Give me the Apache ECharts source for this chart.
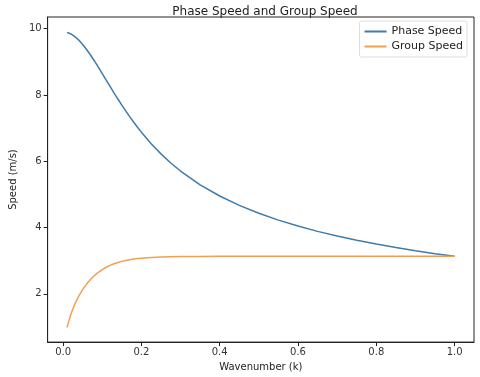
<!DOCTYPE html>
<html>
<head>
<meta charset="utf-8">
<script src="https://cdn.jsdelivr.net/npm/echarts@6/dist/echarts.min.js"></script>
<style>html,body{margin:0;padding:0;background:#fff}#c{width:480px;height:377px}</style>
</head>
<body>
<div id="c"></div>
<script>
const wavenumbers = [0.01,0.02,0.03,0.04,0.05,0.06,0.07,0.08,0.09,0.10,0.11,0.12,0.13,0.14,0.15,0.16,0.17,0.18,0.19,0.20,0.225,0.25,0.275,0.30,0.35,0.40,0.45,0.50,0.55,0.60,0.65,0.70,0.75,0.80,0.85,0.90,0.95,1.00];
const phaseSpeed = [9.888,9.839,9.760,9.653,9.522,9.371,9.203,9.024,8.836,8.644,8.449,8.255,8.064,7.876,7.694,7.517,7.347,7.183,7.027,6.877,6.530,6.222,5.948,5.704,5.289,4.951,4.668,4.429,4.223,4.044,3.885,3.744,3.617,3.502,3.397,3.302,3.213,3.132];
const groupSpeed = [0.989,1.392,1.691,1.931,2.129,2.295,2.435,2.552,2.651,2.733,2.802,2.860,2.908,2.947,2.980,3.007,3.029,3.048,3.063,3.075,3.098,3.111,3.119,3.124,3.129,3.131,3.132,3.132,3.132,3.132,3.132,3.132,3.132,3.132,3.132,3.132,3.132,3.132];
const xTicks = [0.0,0.2,0.4,0.6,0.8,1.0];
const yTicks = [2,4,6,8,10];
const seriesNames = ['Phase Speed','Group Speed'];

const chart = echarts.init(document.getElementById('c'), null, {renderer:'canvas'});
const font = 'DejaVu Sans';
const pair = arr => wavenumbers.map((k,i)=>[k,arr[i]]);
chart.setOption({
  animation:false,
  backgroundColor:'#fff',
  title:{text:'Phase Speed and Group Speed',left:260,top:1,textAlign:'center',
    textStyle:{fontFamily:font,fontSize:12,fontWeight:'normal',color:'#222'}},
  legend:{right:13,top:21,orient:'vertical',itemWidth:22,itemHeight:2,itemGap:4,
    padding:[5,4,5,5],borderColor:'#ddd',borderWidth:1,borderRadius:2,
    icon:'rect',
    textStyle:{fontFamily:font,fontSize:11,color:'#222'},data:seriesNames},
  grid:{left:46,right:6,top:17,bottom:33,show:true,borderColor:'#222',borderWidth:1,containLabel:false},
  xAxis:{type:'value',min:-0.0395,max:1.0495,
    name:'Wavenumber (k)',nameLocation:'middle',nameGap:18,
    nameTextStyle:{fontFamily:font,fontSize:10,color:'#222'},
    axisLine:{show:true,onZero:false,lineStyle:{color:'#222'}},
    axisTick:{show:true,inside:false,length:4,customValues:xTicks,lineStyle:{color:'#222'}},
    axisLabel:{customValues:xTicks,fontFamily:font,fontSize:10,color:'#333',margin:5,
      formatter:v=>v.toFixed(1)},
    splitLine:{show:false}},
  yAxis:{type:'value',min:0.545,max:10.35,
    name:'Speed (m/s)',nameLocation:'middle',nameGap:24,nameRotate:90,
    nameTextStyle:{fontFamily:font,fontSize:10,color:'#222'},
    axisLine:{show:true,onZero:false,lineStyle:{color:'#222'}},
    axisTick:{show:true,inside:false,length:4,customValues:yTicks,lineStyle:{color:'#222'}},
    axisLabel:{customValues:yTicks,fontFamily:font,fontSize:10,color:'#333',margin:6},
    splitLine:{show:false}},
  series:[
    {name:seriesNames[0],type:'line',data:pair(phaseSpeed),showSymbol:false,smooth:false,
      lineStyle:{color:'#3f7bab',width:1.5},itemStyle:{color:'#3f7bab'}},
    {name:seriesNames[1],type:'line',data:pair(groupSpeed),showSymbol:false,smooth:false,
      lineStyle:{color:'#f0a050',width:1.5},itemStyle:{color:'#f0a050'}}
  ]
});
</script>
</body>
</html>
